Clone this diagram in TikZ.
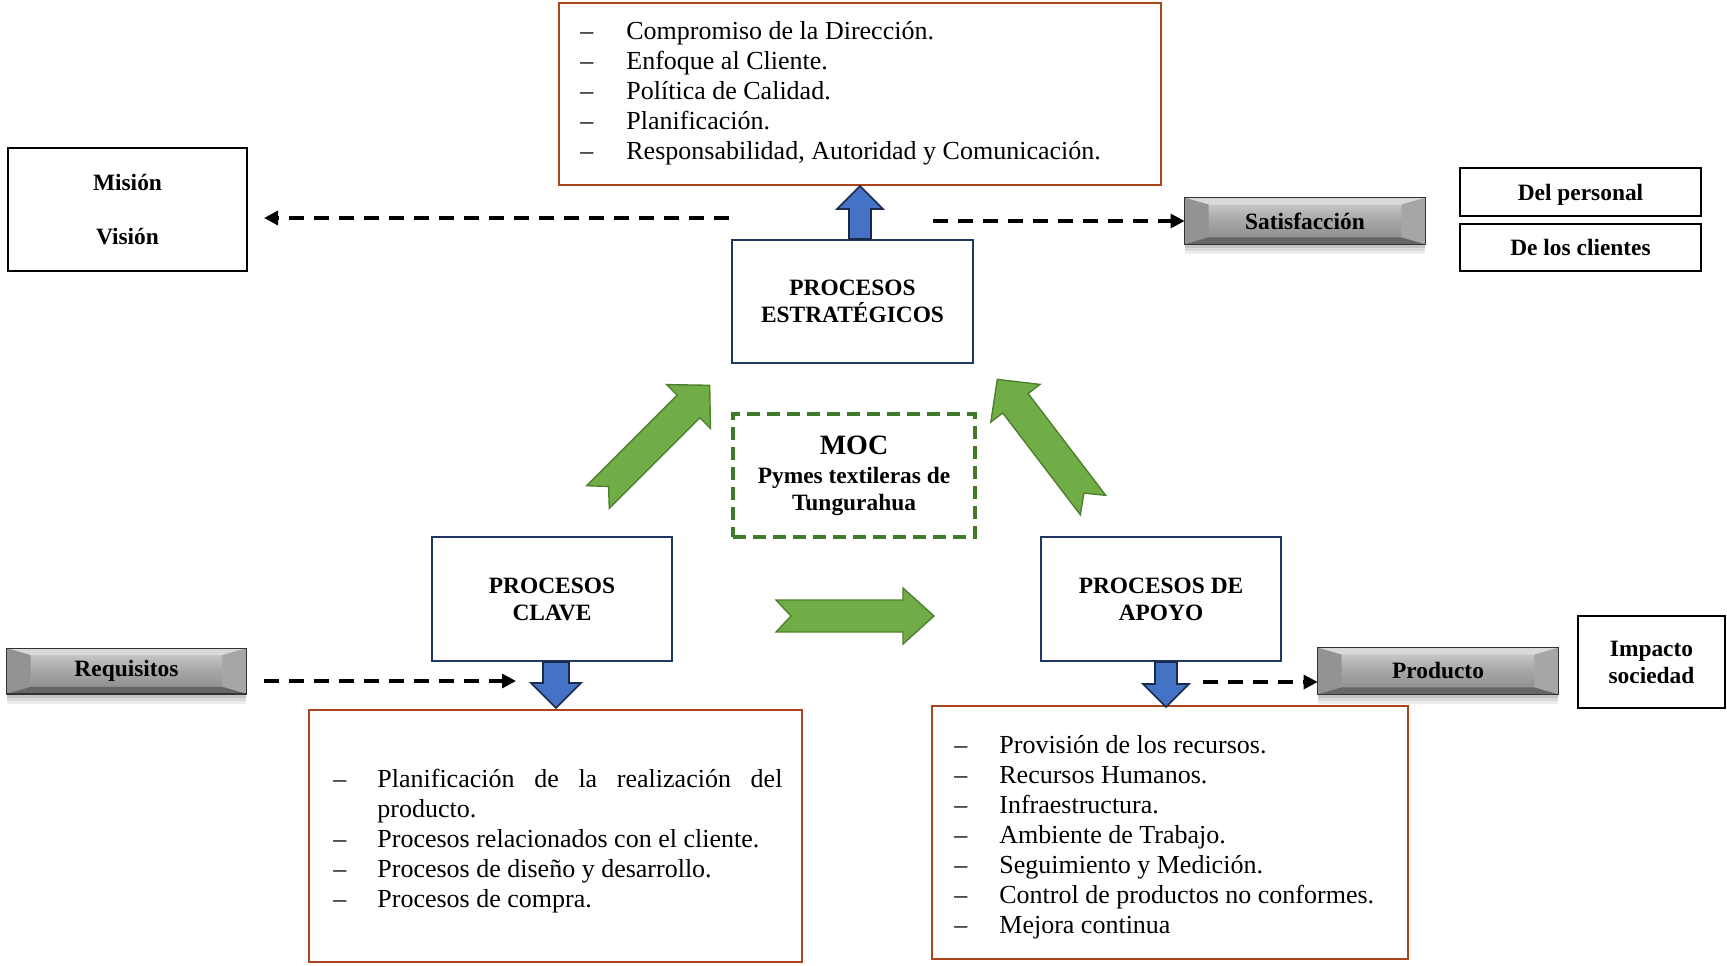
\documentclass[tikz,border=0pt]{standalone}
\usepackage{fontspec}
\setmainfont{Liberation Serif}
\usetikzlibrary{arrows.meta,calc}
\definecolor{redb}{HTML}{A9441C}
\definecolor{navyb}{HTML}{1F3864}
\definecolor{garr}{HTML}{70AD47}
\definecolor{garrd}{HTML}{4E7F2E}
\definecolor{mocg}{HTML}{3F7A2A}
\definecolor{barr}{HTML}{4472C4}
\definecolor{barrd}{HTML}{1A2A4A}
\definecolor{faceT}{HTML}{D2D2D2}
\definecolor{faceB}{HTML}{888888}
\newcommand{\bevelfx}[1]{%
  \fill[gray!30] (#1.north west) -- (#1.north east) -- ($(#1.north east)+(-24,7)$) -- ($(#1.north west)+(24,7)$) -- cycle;
  \fill[gray!85] (#1.north west) -- ($(#1.north west)+(24,7)$) -- ($(#1.south west)+(24,-7)$) -- (#1.south west) -- cycle;
  \fill[gray!70] (#1.north east) -- ($(#1.north east)+(-24,7)$) -- ($(#1.south east)+(-24,-7)$) -- (#1.south east) -- cycle;
  \fill[gray!80!black] (#1.south west) -- ($(#1.south west)+(24,-7)$) -- ($(#1.south east)+(-24,-7)$) -- (#1.south east) -- cycle;
  \draw[black!80, line width=0.6pt] (#1.north west) rectangle (#1.south east);
}
\begin{document}
\begin{tikzpicture}[x=0.5pt,y=-0.5pt,
  lbl/.style={font=\fontsize{11.7}{13.5}\selectfont\bfseries, align=center, inner sep=0pt},
  blackbox/.style={lbl, draw=black, line width=1pt},
  navybox/.style={lbl, draw=navyb, line width=1pt},
  redbox/.style={draw=redb, line width=1.1pt, inner sep=0pt},
  banner/.style={lbl, top color=faceT, bottom color=faceB, middle color=gray!70, minimum width=120pt, minimum height=23pt,
    preaction={fill=black, opacity=0.07, transform canvas={yshift=-5pt}},
    preaction={fill=black, opacity=0.08, transform canvas={yshift=-3.5pt}},
    preaction={fill=black, opacity=0.10, transform canvas={yshift=-2pt}}},
  listtxt/.style={font=\fontsize{13}{15}\selectfont, inner sep=0pt, anchor=west},
  greenarr/.style={fill=garr, draw=garrd, line width=0.7pt, line join=miter},
  bluearr/.style={fill=barr, draw=barrd, line width=0.8pt, line join=miter},
  dasharr/.style={line width=1.6pt, dash pattern=on 7.5pt off 5pt, -{Triangle[length=7pt,width=7pt]}}
]
\useasboundingbox (0,0) rectangle (1727,965);

% ---- boxes ----
\node[blackbox, minimum width=119.5pt, minimum height=61.5pt] (mision) at (127.5,209.5)
  {Misión\\[13.5pt]Visión};
\node[redbox, minimum width=301pt, minimum height=91pt] (topbox) at (860,94) {};
\node[listtxt] (toplist) at (580,93) {\begin{tabular}{@{}p{23pt}@{}l@{}}
 – & Compromiso de la Dirección.\\
 – & Enfoque al Cliente.\\
 – & Política de Calidad.\\
 – & Planificación.\\
 – & Responsabilidad, Autoridad y Comunicación.
\end{tabular}};
\node[navybox, minimum width=120.5pt, minimum height=61.5pt] (strat) at (852.5,301.5)
  {PROCESOS\\ESTRATÉGICOS};
\node[banner] (satisf) at (1305,221) {};
\bevelfx{satisf}
\node[lbl] (satisftxt) at (satisf.center) {Satisfacción};
\node[blackbox, minimum width=120.5pt, minimum height=24pt, text depth=0pt] (delp) at (1580.5,192) {Del personal};
\node[blackbox, minimum width=120.5pt, minimum height=23.5pt] (decl) at (1580.5,247.5) {De los clientes};

\node[lbl, draw=mocg, line width=1.8pt, dash pattern=on 6.5pt off 3.5pt,
  minimum width=121pt, minimum height=61.5pt] (moc) at (854,475.5)
  {{\fontsize{14}{15}\selectfont MOC}\\[1pt]Pymes textileras de\\Tungurahua};

\node[navybox, minimum width=120pt, minimum height=62pt] (clave) at (552,599) {PROCESOS\\CLAVE};
\node[navybox, minimum width=120pt, minimum height=62pt] (apoyo) at (1161,599) {PROCESOS DE\\APOYO};

\node[banner, minimum width=119.5pt, minimum height=22.5pt] (req) at (126.5,671) {};
\bevelfx{req}
\node[lbl] (reqtxt) at (req.center) {Requisitos};
\node[banner] (prod) at (1438,671) {};
\bevelfx{prod}
\node[lbl] (prodtxt) at (prod.center) {Producto};
\node[blackbox, minimum width=73.5pt, minimum height=46pt] (imp) at (1651.5,662) {Impacto\\sociedad};

\node[redbox, minimum width=246.5pt, minimum height=126pt] (clavebox) at (555.5,836) {};
\node[listtxt] (clavelist) at (333,841) {\begin{tabular}{@{}p{22pt}@{}l@{}}
 – & \makebox[202.5pt][s]{Planificación de la realización del}\\
   & producto.\\
 – & Procesos relacionados con el cliente.\\
 – & Procesos de diseño y desarrollo.\\
 – & Procesos de compra.
\end{tabular}};
\node[redbox, minimum width=238pt, minimum height=126.5pt] (apoyobox) at (1170,832.5) {};
\node[listtxt] (apoyolist) at (954,837.5) {\begin{tabular}{@{}p{22.5pt}@{}l@{}}
 – & Provisión de los recursos.\\
 – & Recursos Humanos.\\
 – & Infraestructura.\\
 – & Ambiente de Trabajo.\\
 – & Seguimiento y Medición.\\
 – & Control de productos no conformes.\\
 – & Mejora continua
\end{tabular}};

% ---- blue block arrows ----
\draw[bluearr] ($(strat.north)+(-3.5,0)$) -- ++(0,-30) -- ++(-12,0) -- ++(23,-23) -- ++(23,23) -- ++(-12,0) -- ++(0,30) -- cycle;
\draw[bluearr] ($(clave.south)+(-9,0)$) -- ++(0,21) -- ++(-12,0) -- ++(25,25) -- ++(25,-25) -- ++(-12,0) -- ++(0,-21) -- cycle;
\draw[bluearr] ($(apoyo.south)+(-6,0)$) -- ++(0,22) -- ++(-12,0) -- ++(23,23) -- ++(23,-23) -- ++(-12,0) -- ++(0,-22) -- cycle;

% ---- green block arrows ----
\draw[greenarr] (586.7,485.7) -- (677.2,395.2) -- (666.6,384.6) -- (709.7,385.3) -- (710.4,428.4) -- (699.8,417.8) -- (609.3,508.3) -- (608.6,486.4) -- cycle;
\draw[greenarr] (1080.3,514.7) -- (1002.7,412.9) -- (990.8,422.0) -- (997.3,379.4) -- (1040.0,384.4) -- (1028.1,393.5) -- (1105.7,495.3) -- (1083.9,493.1) -- cycle;
\draw[greenarr] (776,600) -- (903,600) -- (903,588) -- (934,616) -- (903,644) -- (903,632) -- (776,632) -- (791,616) -- cycle;

% ---- dashed arrows ----
\coordinate (misA) at (729,218);
\coordinate (misB) at (264,218);
\draw[dasharr] (misA) -- (misB);
\coordinate (satA) at (933,221);
\draw[dasharr] (satA) -- (satisf.west);
\coordinate (reqA) at (264,681);
\coordinate (reqB) at (516,681);
\draw[dasharr] (reqA) -- (reqB);
\coordinate (prodA) at (1203,682);
\draw[dasharr] (prodA) -- (prod.west |- prodA);
\end{tikzpicture}
\end{document}
